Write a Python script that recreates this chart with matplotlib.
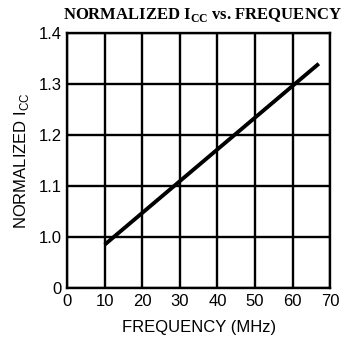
import matplotlib.pyplot as plt
import numpy as np

# data
freq_mhz = [10, 67]
icc_norm = [0.985, 1.34]
x_ticks = [0, 10, 20, 30, 40, 50, 60, 70]
y_levels = [0, 1.0, 1.1, 1.2, 1.3, 1.4]
y_labels = ['0', '1.0', '1.1', '1.2', '1.3', '1.4']


def to_axis(v):
    # broken y axis: 0 then 1.0..1.4 in equal steps
    v = np.asarray(v, dtype=float)
    return np.where(v >= 0.9, 1 + (v - 1.0) / 0.1, v)


fig = plt.figure(figsize=(3.46, 3.38), dpi=100)
ax = fig.add_axes([0.194, 0.148, 0.76, 0.754])

ax.plot(freq_mhz, to_axis(icc_norm), color='black', lw=2.8, solid_capstyle='butt')

ax.set_xlim(0, 70)
ax.set_ylim(0, 5)
ax.set_xticks(x_ticks)
ax.set_yticks(to_axis(y_levels))
ax.set_yticklabels(y_labels)
ax.grid(True, color='black', lw=1.7)
ax.tick_params(length=0, labelsize=12, pad=4)
for s in ax.spines.values():
    s.set_linewidth(1.7)
for lab in ax.get_xticklabels() + ax.get_yticklabels():
    lab.set_family('Liberation Sans')

ax.set_xlabel('FREQUENCY (MHz)', family='Liberation Sans', fontsize=12, labelpad=8)
ax.set_ylabel('NORMALIZED I$_{\\mathregular{CC}}$', family='Liberation Sans', fontsize=12, labelpad=5)
fig.text(0.585, 0.955, 'NORMALIZED I$_{\\mathregular{CC}}$ vs. FREQUENCY', family='Liberation Serif',
         weight='bold', fontsize=12, ha='center', va='center')

fig.savefig('out.png', dpi=100)
